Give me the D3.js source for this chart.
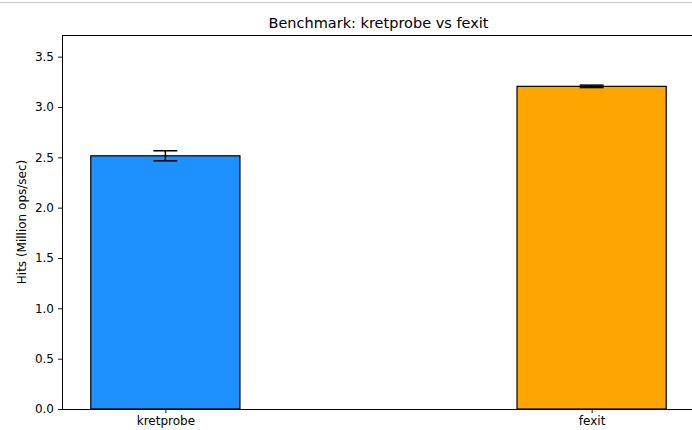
<!DOCTYPE html>
<html>
<head>
<meta charset="utf-8">
<script src="https://cdn.jsdelivr.net/npm/d3@7"></script>
<style>
  html, body { margin: 0; padding: 0; background: #fff; }
  svg { display: block; font-family: "DejaVu Sans", sans-serif; }
</style>
</head>
<body>
<svg id="chart" width="692" height="430"></svg>
<script>
// Benchmark results: mean throughput and spread per probe type
const categories = ["kretprobe", "fexit"];
const hits = [2.515, 3.205];
const errors = [0.05, 0.012];
const colors = ["#1e90ff", "#ffa500"];
const yTicks = [0.0, 0.5, 1.0, 1.5, 2.0, 2.5, 3.0, 3.5];
const titleText = "Benchmark: kretprobe vs fexit";
const yLabelText = "Hits (Million ops/sec)";

const svg = d3.select("#chart");
const W = 692, H = 430;
const margin = { left: 62, top: 35, right: -3, bottom: 21 };
const plotW = W - margin.left - margin.right;
const plotH = H - margin.top - margin.bottom;

// thin separator along the top edge
svg.append("line")
  .attr("x1", 0).attr("x2", W).attr("y1", 2.5).attr("y2", 2.5)
  .attr("stroke", "#c8c8c8").attr("stroke-width", 1);

const barWidth = 0.35;
const x = d3.scaleLinear()
  .domain([-0.2425, 1.2425])
  .range([margin.left, margin.left + plotW]);
const y = d3.scaleLinear()
  .domain([0, 3.715])
  .range([margin.top + plotH, margin.top]);

const g = svg.append("g");

// bars
g.selectAll("rect.bar")
  .data(categories)
  .join("rect")
  .attr("class", "bar")
  .attr("x", (d, i) => x(i - barWidth / 2))
  .attr("width", (d, i) => x(i + barWidth / 2) - x(i - barWidth / 2))
  .attr("y", (d, i) => y(hits[i]))
  .attr("height", (d, i) => y(0) - y(hits[i]))
  .attr("fill", (d, i) => colors[i])
  .attr("stroke", "#000")
  .attr("stroke-width", 1.2);

// error bars with caps
const capHalf = 12;
const eb = g.selectAll("g.err")
  .data(categories)
  .join("g")
  .attr("class", "err");
eb.append("line")
  .attr("x1", (d, i) => x(i)).attr("x2", (d, i) => x(i))
  .attr("y1", (d, i) => y(hits[i] - errors[i]))
  .attr("y2", (d, i) => y(hits[i] + errors[i]))
  .attr("stroke", "#000").attr("stroke-width", 1.5);
[-1, 1].forEach(s => {
  eb.append("line")
    .attr("x1", (d, i) => x(i) - capHalf).attr("x2", (d, i) => x(i) + capHalf)
    .attr("y1", (d, i) => y(hits[i] + s * errors[i]))
    .attr("y2", (d, i) => y(hits[i] + s * errors[i]))
    .attr("stroke", "#000").attr("stroke-width", 1.5);
});

// axes
const yAxis = d3.axisLeft(y)
  .tickValues(yTicks)
  .tickFormat(d3.format(".1f"))
  .tickSize(4).tickPadding(4);
const xAxis = d3.axisBottom(x)
  .tickValues(categories.map((d, i) => i))
  .tickFormat(i => categories[i])
  .tickSize(4).tickPadding(3);

const ya = svg.append("g")
  .attr("transform", `translate(${margin.left},0)`)
  .call(yAxis);
const xa = svg.append("g")
  .attr("transform", `translate(0,${margin.top + plotH})`)
  .call(xAxis);
[ya, xa].forEach(a => {
  a.select(".domain").remove();
  a.selectAll("line").attr("stroke", "#000").attr("stroke-width", 0.9);
  a.selectAll("text").attr("fill", "#000").style("font-size", "12px")
    .style("font-family", "'DejaVu Sans', sans-serif");
});

// spines (left, top, bottom)
const spine = { stroke: "#000", "stroke-width": 1 };
[[margin.left, margin.top, margin.left, margin.top + plotH],
 [margin.left, margin.top, W + 5, margin.top],
 [margin.left, margin.top + plotH, W + 5, margin.top + plotH]].forEach(c => {
  svg.append("line")
    .attr("x1", c[0]).attr("y1", c[1]).attr("x2", c[2]).attr("y2", c[3])
    .attr("stroke", spine.stroke).attr("stroke-width", spine["stroke-width"])
    .attr("shape-rendering", "crispEdges");
});

// title, centred over the full axes span
svg.append("text")
  .attr("x", (x.range()[0] + x.range()[1]) / 2).attr("y", 27.5)
  .attr("text-anchor", "middle")
  .style("font-size", "14.5px")
  .attr("fill", "#000")
  .text(titleText);

// y-axis label
svg.append("text")
  .attr("transform", `translate(26,${margin.top + plotH / 2}) rotate(-90)`)
  .attr("text-anchor", "middle")
  .style("font-size", "12px")
  .attr("fill", "#000")
  .text(yLabelText);
</script>
</body>
</html>
